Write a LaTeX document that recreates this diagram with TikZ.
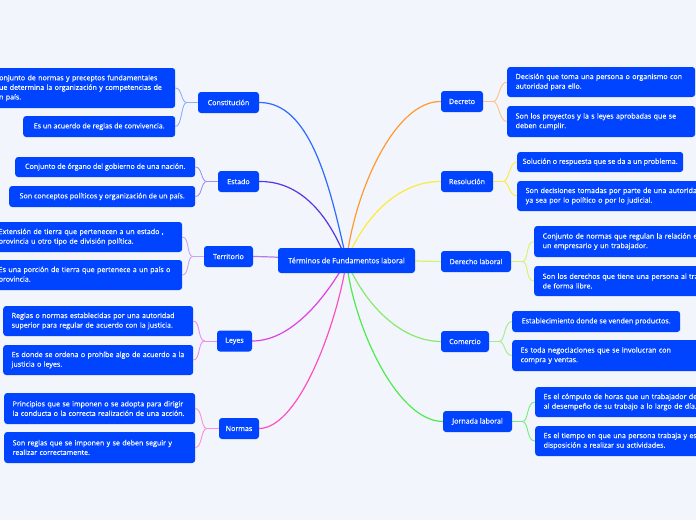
\documentclass[tikz,border=0pt]{standalone}
\usepackage{fontspec}
\setmainfont{Open Sans}[FakeBold=0.25]
\pgfdeclarelayer{background}
\pgfsetlayers{background,main}
\definecolor{bg}{HTML}{F2F5FC}
\definecolor{boxblue}{HTML}{0044FF}
\definecolor{cConst}{HTML}{2D6BFF}
\definecolor{cEstado}{HTML}{5436E0}
\definecolor{cTerr}{HTML}{B57BEA}
\definecolor{cLeyes}{HTML}{E040E0}
\definecolor{cNormas}{HTML}{FF4FC0}
\definecolor{cDecreto}{HTML}{FF9A2E}
\definecolor{cResol}{HTML}{FFE93A}
\definecolor{cDerecho}{HTML}{D4F26A}
\definecolor{cComercio}{HTML}{8AE86A}
\definecolor{cJornada}{HTML}{4EEB4E}
\tikzset{
  boxbase/.style={fill=boxblue, rounded corners=3pt, text=white, inner sep=0pt},
  centerbox/.style={boxbase, minimum width=137, minimum height=25, font=\fontsize{7.3}{9}\selectfont},
  mainbox/.style={boxbase, minimum height=21, font=\fontsize{7.1}{9}\selectfont},
  leafbox/.style={boxbase, anchor=west, inner xsep=8.5pt, font=\fontsize{7.1}{9.6}\selectfont, align=left},
  leafone/.style={boxbase, anchor=west, font=\fontsize{7.1}{9.6}\selectfont, align=center},
  mline/.style={line width=1.2pt},
  lline/.style={line width=0.9pt},
}
\begin{document}
\begin{tikzpicture}[x=1pt,y=-1pt]
\useasboundingbox (0,0) rectangle (696,520);

% center
\node[centerbox] (c) at (346.5,260.5) {Términos de Fundamentos laboral};

% main nodes left
\node[mainbox, minimum width=61] (const) at (228.5,102.5) {Constitución};
\node[mainbox, minimum width=41] (estado) at (238.5,181.5) {Estado};
\node[mainbox, minimum width=49] (terr) at (228.5,256.5) {Territorio};
\node[mainbox, minimum width=35] (leyes) at (234.5,341) {Leyes};
\node[mainbox, minimum width=40] (normas) at (239,428.5) {Normas};
% main nodes right
\node[mainbox, minimum width=42] (decreto) at (462,101.5) {Decreto};
\node[mainbox, minimum width=52] (resol) at (467,181.5) {Resolución};
\node[mainbox, minimum width=70] (derecho) at (476,261.5) {Derecho laboral};
\node[mainbox, minimum width=48] (comercio) at (465,341.5) {Comercio};
\node[mainbox, minimum width=69] (jornada) at (477.5,421.5) {Jornada laboral};

% leaves left
\node[leafbox, text width=172, minimum height=40] (const1) at (-14,88) {Conjunto de normas y preceptos fundamentales\\que determina la organización y competencias de\\un país.};
\node[leafone, minimum width=152, minimum height=21] (const2) at (23,126.5) {Es un acuerdo de reglas de convivencia.};
\node[leafone, minimum width=180, minimum height=20] (estado1) at (15,167) {Conjunto de órgano del gobierno de una nación.};
\node[leafone, minimum width=186, minimum height=21] (estado2) at (9,196.5) {Son conceptos políticos y organización de un país.};
\node[leafbox, text width=175, minimum height=30] (terr1) at (-10,237) {Extensión de tierra que pertenecen a un estado ,\\provincia u otro tipo de división política.};
\node[leafbox, text width=175, minimum height=30] (terr2) at (-10,275) {Es una porción de tierra que pertenece a un país o\\provincia.};
\node[leafbox, text width=173, minimum height=30] (leyes1) at (3,321) {Reglas o normas establecidas por una autoridad\\superior para regular de acuerdo con la justicia.};
\node[leafbox, text width=173, minimum height=30] (leyes2) at (3,360) {Es donde se ordena o prohíbe algo de acuerdo a la\\justicia o leyes.};
\node[leafbox, text width=174, minimum height=31] (normas1) at (4,408.5) {Principios que se imponen o se adopta para dirigir\\la conducta o la correcta realización de una acción.};
\node[leafbox, text width=174, minimum height=31] (normas2) at (4,447.5) {Son reglas que se imponen y se deben seguir y\\realizar correctamente.};

% leaves right
\node[leafbox, text width=171, minimum height=30] (decreto1) at (507,82) {Decisión que toma una persona o organismo con\\autoridad para ello.};
\node[leafbox, text width=171, minimum height=31] (decreto2) at (507,121.5) {Son los proyectos y la s leyes aprobadas que se\\deben cumplir.};
\node[leafone, minimum width=166, minimum height=20] (resol1) at (517,162) {Solución o respuesta que se da a un problema.};
\node[leafbox, text width=190, minimum height=30] (resol2) at (517,196) {Son decisiones tomadas por parte de una autoridad,\\ya sea por lo político o por lo judicial.};
\node[leafbox, text width=190, minimum height=31] (derecho1) at (534,241.5) {Conjunto de normas que regulan la relación entre\\un empresario y un trabajador.};
\node[leafbox, text width=190, minimum height=30] (derecho2) at (534,281) {Son los derechos que tiene una persona al trabajar\\de forma libre.};
\node[leafone, minimum width=168, minimum height=21] (comercio1) at (512,321.5) {Establecimiento donde se venden productos.};
\node[leafbox, text width=190, minimum height=31] (comercio2) at (512,355.5) {Es toda negociaciones que se involucran con\\compra y ventas.};
\node[leafbox, text width=190, minimum height=30] (jornada1) at (535,402) {Es el cómputo de horas que un trabajador dedica\\al desempeño de su trabajo a lo largo de día.};
\node[leafbox, text width=190, minimum height=30] (jornada2) at (535,441) {Es el tiempo en que una persona trabaja y está a\\disposición a realizar su actividades.};

\begin{pgfonlayer}{background}
\fill[bg] (0,0) rectangle (696,520);
% main connectors
\draw[mline, cConst] (const.east) .. controls (310,102) and (330,185) .. (c.center);
\draw[mline, cEstado] (estado.east) .. controls (290,181) and (323,200) .. (c.center);
\draw[mline, cTerr] (terr.east) .. controls (290,257) and (310,260) .. (c.center);
\draw[mline, cLeyes] (leyes.east) .. controls (295,341) and (330,290) .. (c.center);
\draw[mline, cNormas] (normas.east) .. controls (300,428) and (338,320) .. (c.center);
\draw[mline, cDecreto] (decreto.west) .. controls (395,101) and (355,190) .. (c.center);
\draw[mline, cResol] (resol.west) .. controls (400,181) and (365,215) .. (c.center);
\draw[mline, cDerecho] (derecho.west) .. controls (410,261) and (380,260) .. (c.center);
\draw[mline, cComercio] (comercio.west) .. controls (395,341) and (360,295) .. (c.center);
\draw[mline, cJornada] (jornada.west) .. controls (395,421) and (352,320) .. (c.center);

% leaf connectors left
\draw[lline, cConst!55] (const.west) -- ++(-11,0) coordinate (constj);
\draw[lline, cConst!55] (constj) .. controls +(-6,0) and +(7,0) .. (const1.east);
\draw[lline, cConst!55] (constj) .. controls +(-6,0) and +(7,0) .. (const2.east);
\draw[lline, cEstado!55] (estado.west) -- ++(-11,0) coordinate (estadoj);
\draw[lline, cEstado!55] (estadoj) .. controls +(-6,0) and +(7,0) .. (estado1.east);
\draw[lline, cEstado!55] (estadoj) .. controls +(-6,0) and +(7,0) .. (estado2.east);
\draw[lline, cTerr!70] (terr.west) -- ++(-11,0) coordinate (terrj);
\draw[lline, cTerr!70] (terrj) .. controls +(-6,0) and +(7,0) .. (terr1.east);
\draw[lline, cTerr!70] (terrj) .. controls +(-6,0) and +(7,0) .. (terr2.east);
\draw[lline, cLeyes!60] (leyes.west) -- ++(-12,0) coordinate (leyesj);
\draw[lline, cLeyes!60] (leyesj) .. controls +(-7,0) and +(7,0) .. (leyes1.east);
\draw[lline, cLeyes!60] (leyesj) .. controls +(-7,0) and +(7,0) .. (leyes2.east);
\draw[lline, cNormas!65] (normas.west) -- ++(-12,0) coordinate (normasj);
\draw[lline, cNormas!65] (normasj) .. controls +(-6,0) and +(7,0) .. (normas1.east);
\draw[lline, cNormas!65] (normasj) .. controls +(-6,0) and +(7,0) .. (normas2.east);
% leaf connectors right
\draw[lline, cDecreto!60] (decreto.east) -- ++(10,0) coordinate (decretoj);
\draw[lline, cDecreto!60] (decretoj) .. controls +(6,0) and +(-8,0) .. (decreto1.west);
\draw[lline, cDecreto!60] (decretoj) .. controls +(6,0) and +(-8,0) .. (decreto2.west);
\draw[lline, cResol] (resol.east) -- ++(10,0) coordinate (resolj);
\draw[lline, cResol] (resolj) .. controls +(6,0) and +(-8,0) .. (resol1.west);
\draw[lline, cResol] (resolj) .. controls +(6,0) and +(-8,0) .. (resol2.west);
\draw[lline, cDerecho] (derecho.east) -- ++(11,0) coordinate (derechoj);
\draw[lline, cDerecho] (derechoj) .. controls +(7,0) and +(-9,0) .. (derecho1.west);
\draw[lline, cDerecho] (derechoj) .. controls +(7,0) and +(-9,0) .. (derecho2.west);
\draw[lline, cComercio!80] (comercio.east) -- ++(10,0) coordinate (comercioj);
\draw[lline, cComercio!80] (comercioj) .. controls +(6,0) and +(-8,0) .. (comercio1.west);
\draw[lline, cComercio!80] (comercioj) .. controls +(6,0) and +(-8,0) .. (comercio2.west);
\draw[lline, cJornada!80] (jornada.east) -- ++(10,0) coordinate (jornadaj);
\draw[lline, cJornada!80] (jornadaj) .. controls +(7,0) and +(-9,0) .. (jornada1.west);
\draw[lline, cJornada!80] (jornadaj) .. controls +(7,0) and +(-9,0) .. (jornada2.west);
\end{pgfonlayer}
\end{tikzpicture}
\end{document}
